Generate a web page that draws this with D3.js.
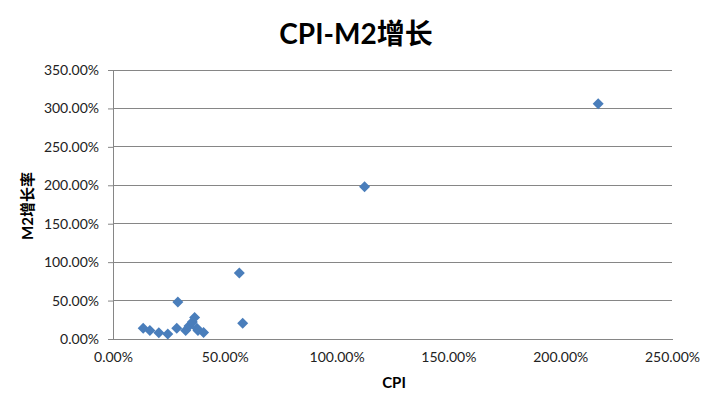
<!DOCTYPE html>
<html><head><meta charset="utf-8">
<script src="https://cdn.jsdelivr.net/npm/d3@7"></script>
<style>body{margin:0;background:#fff}svg{display:block}</style>
</head><body>
<script>
const cpi = [13.5, 16.5, 20.5, 24.5, 28.5, 29, 32.5, 34, 35.5, 36.5, 37.5, 38, 40.5, 56.5, 58, 112.5, 217];
const m2  = [14, 11, 8, 6.5, 14, 48, 11, 17, 22, 28, 14, 11, 8.5, 86, 20.5, 198, 306];
const xTicks = [0, 50, 100, 150, 200, 250];
const yTicks = [0, 50, 100, 150, 200, 250, 300, 350];
const title = "CPI-M2增长";
const xTitle = "CPI";
const yTitle = "M2增长率";

const W = 718, H = 414;
const svg = d3.select("body").append("svg").attr("width", W).attr("height", H);
const font = "Lato, 'Noto Sans CJK SC', sans-serif";
const x = d3.scaleLinear().domain([0, 250]).range([113, 672]);
const y = d3.scaleLinear().domain([0, 350]).range([339, 70]);
const fmt = d => d.toFixed(2) + "%";

// gridlines
svg.append("g").selectAll("line").data(yTicks.filter(d => d > 0)).join("line")
  .attr("x1", x(0)).attr("x2", x(250)).attr("y1", d => y(d)).attr("y2", d => y(d))
  .attr("stroke", "#868686").attr("stroke-width", 1).attr("shape-rendering", "crispEdges");

// y axis
const ya = svg.append("g").attr("transform", `translate(${x(0)},0)`)
  .call(d3.axisLeft(y).tickValues(yTicks).tickFormat(fmt).tickSize(5).tickPadding(9));
ya.select(".domain").attr("stroke", "#868686");
ya.selectAll(".tick line").attr("stroke", "#868686");
ya.selectAll("text").style("font-family", font).style("font-size", "14px").attr("fill", "#222");

// x axis
const xa = svg.append("g").attr("transform", `translate(0,${y(0)})`)
  .call(d3.axisBottom(x).tickValues(xTicks).tickFormat(fmt).tickSize(0).tickPadding(13));
xa.select(".domain").attr("stroke", "#868686");
xa.selectAll("text").style("font-family", font).style("font-size", "14px").attr("fill", "#222");
svg.selectAll(".domain").attr("shape-rendering", "crispEdges");

// points
const r = 5.5;
const diamond = `M0,${-r}L${r},0L0,${r}L${-r},0Z`;
svg.append("g").selectAll("path").data(cpi.map((c, i) => [c, m2[i]])).join("path")
  .attr("d", diamond)
  .attr("transform", d => `translate(${x(d[0])},${y(d[1])})`)
  .attr("fill", "#4a7ebb");

// titles
svg.append("text").attr("x", 356).attr("y", 44).attr("text-anchor", "middle")
  .style("font-family", font).attr("font-weight", "bold").style("font-size", "28px").attr("fill", "#000").text(title);
svg.append("text").attr("x", 394).attr("y", 388).attr("text-anchor", "middle")
  .style("font-family", font).attr("font-weight", "bold").style("font-size", "15px").attr("fill", "#000").text(xTitle);
svg.append("text").attr("transform", "translate(33,206) rotate(-90)").attr("text-anchor", "middle")
  .style("font-family", font).attr("font-weight", "bold").style("font-size", "15px").attr("fill", "#000").text(yTitle);
</script>
</body></html>
